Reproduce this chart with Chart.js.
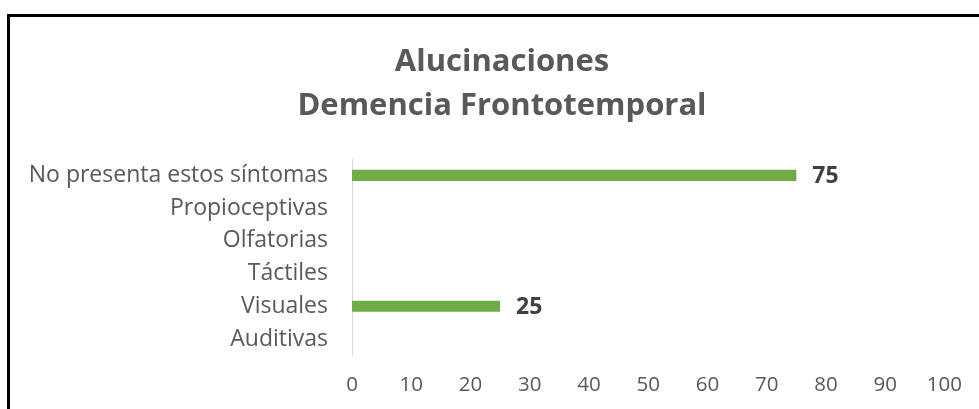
<!DOCTYPE html>
<html>
<head>
<meta charset="utf-8">
<script src="https://cdn.jsdelivr.net/npm/chart.js@4/dist/chart.umd.min.js"></script>
<style>
  html, body { margin: 0; padding: 0; background: #fff; }
  #wrap { position: relative; width: 979px; height: 409px; overflow: hidden; }
  #marco { position: absolute; left: 7px; top: 14px; right: -10px; bottom: -10px;
           border-top: 3px solid #000; border-left: 3px solid #000; pointer-events: none; }
  canvas { position: absolute; left: 0; top: 0; }
</style>
</head>
<body>
<div id="wrap">
  <canvas id="grafico" width="979" height="409"></canvas>
  <div id="marco"></div>
</div>
<script>
// Datos del gráfico
const titulo = ['Alucinaciones', 'Demencia Frontotemporal'];
const categorias = ['No presenta estos síntomas', 'Propioceptivas', 'Olfatorias', 'Táctiles', 'Visuales', 'Auditivas'];
const valores = [75, 0, 0, 0, 25, 0];
const ticksX = [0, 10, 20, 30, 40, 50, 60, 70, 80, 90, 100];

const fuente = '"Open Sans", Lato, sans-serif';

// Etiquetas de valor a la derecha de cada barra
const etiquetasBarras = {
  id: 'etiquetasBarras',
  afterDatasetsDraw(chart) {
    const ctx = chart.ctx;
    const meta = chart.getDatasetMeta(0);
    ctx.save();
    ctx.font = 'bold 23px ' + fuente;
    ctx.fillStyle = '#404040';
    ctx.textAlign = 'left';
    ctx.textBaseline = 'middle';
    meta.data.forEach((bar, i) => {
      const v = valores[i];
      if (!v) return;
      ctx.fillText(String(v), bar.x + 16, bar.y + 1);
    });
    ctx.restore();
  }
};

// El título del original está algo desplazado a la derecha
const moverTitulo = {
  id: 'moverTitulo',
  afterLayout(chart) {
    if (chart.titleBlock) {
      chart.titleBlock.left += 21;
      chart.titleBlock.right += 21;
    }
  }
};

const ctx = document.getElementById('grafico').getContext('2d');
new Chart(ctx, {
  type: 'bar',
  data: {
    labels: categorias,
    datasets: [{
      data: valores,
      backgroundColor: '#70ad47',
      borderWidth: 0,
      barPercentage: 0.34,
      categoryPercentage: 1
    }]
  },
  options: {
    indexAxis: 'y',
    responsive: false,
    animation: false,
    layout: { padding: { left: 0, right: 17, top: 14, bottom: -5 } },
    scales: {
      x: {
        min: 0,
        max: 100,
        afterBuildTicks: (scale) => { scale.ticks = ticksX.map(v => ({ value: v })); },
        grid: { display: false, drawTicks: false },
        border: { display: false },
        ticks: { color: '#595959', font: { family: fuente, size: 20.5 }, padding: 17, maxRotation: 0 }
      },
      y: {
        afterFit: (scale) => { scale.width = 352; },
        grid: { display: false, drawTicks: false },
        border: { display: true, color: '#d9d9d9', width: 1 },
        ticks: { color: '#595959', font: { family: fuente, size: 23 }, padding: 24 }
      }
    },
    plugins: {
      legend: { display: false },
      tooltip: { enabled: false },
      title: {
        display: true,
        text: titulo,
        color: '#595959',
        font: { family: fuente, size: 31, weight: 'bold', lineHeight: 1.42 },
        padding: { top: 26, bottom: 31 }
      }
    }
  },
  plugins: [etiquetasBarras, moverTitulo]
});
</script>
</body>
</html>
